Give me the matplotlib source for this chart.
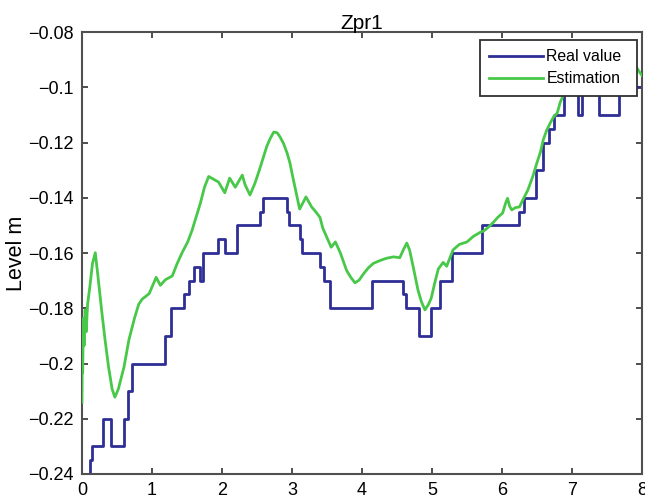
import matplotlib
matplotlib.use("Agg")
import matplotlib.pyplot as plt
import numpy as np
from matplotlib.ticker import FuncFormatter

plt.rcParams['font.family'] = ['Liberation Sans', 'DejaVu Sans']

# real value: staircase, level holds from each x until the next one
real_x = [0.00, 0.12, 0.15, 0.30, 0.42, 0.60, 0.66, 0.72, 1.18, 1.27, 1.46, 1.53,
          1.60, 1.68, 1.73, 1.95, 2.04, 2.21, 2.54, 2.59, 2.93, 2.96, 3.12, 3.15,
          3.40, 3.46, 3.55, 4.14, 4.59, 4.63, 4.82, 4.99, 5.12, 5.28, 5.72, 6.24,
          6.31, 6.48, 6.59, 6.67, 6.75, 6.89, 7.08, 7.14, 7.38, 7.67, 8.00]
real_y = [-0.240, -0.235, -0.230, -0.220, -0.230, -0.220, -0.210, -0.200, -0.190, -0.180, -0.175, -0.170,
          -0.165, -0.170, -0.160, -0.155, -0.160, -0.150, -0.145, -0.140, -0.145, -0.150, -0.155, -0.160,
          -0.165, -0.170, -0.180, -0.170, -0.175, -0.180, -0.190, -0.180, -0.170, -0.160, -0.150, -0.145,
          -0.140, -0.130, -0.120, -0.115, -0.110, -0.100, -0.110, -0.100, -0.110, -0.100, -0.100]

# estimation
est_x = [0.00, 0.005, 0.01, 0.02, 0.03, 0.045, 0.06, 0.08, 0.11, 0.15, 0.19, 0.23,
         0.28, 0.33, 0.38, 0.43, 0.47, 0.52, 0.60, 0.67, 0.75, 0.81, 0.86, 0.91,
         0.96, 1.01, 1.06, 1.12, 1.19, 1.29, 1.36, 1.43, 1.51, 1.57, 1.63, 1.69,
         1.75, 1.81, 1.88, 1.95, 2.04, 2.11, 2.19, 2.29, 2.33, 2.40, 2.47, 2.53,
         2.59, 2.64, 2.69, 2.74, 2.79, 2.83, 2.88, 2.93, 2.97, 3.01, 3.06, 3.11,
         3.20, 3.28, 3.34, 3.40, 3.44, 3.51, 3.56, 3.62, 3.69, 3.78, 3.84, 3.90,
         3.96, 4.02, 4.09, 4.16, 4.25, 4.35, 4.45, 4.54, 4.59, 4.64, 4.68, 4.73,
         4.80, 4.85, 4.90, 4.95, 4.99, 5.04, 5.09, 5.16, 5.21, 5.30, 5.39, 5.50,
         5.59, 5.69, 5.74, 5.79, 5.87, 5.94, 6.01, 6.05, 6.08, 6.11, 6.14, 6.19,
         6.25, 6.31, 6.37, 6.44, 6.50, 6.55, 6.59, 6.64, 6.69, 6.74, 6.79, 6.83,
         6.87, 6.92, 7.00, 7.10, 7.20, 7.35, 7.50, 7.65, 7.80, 7.92, 7.97, 8.00]
est_y = [-0.2140, -0.1935, -0.2033, -0.1836, -0.1935, -0.1806, -0.1885, -0.1786, -0.1727, -0.1638, -0.1599, -0.1688,
         -0.1806, -0.1915, -0.2013, -0.2092, -0.2122, -0.2092, -0.2013, -0.1915, -0.1836, -0.1786, -0.1767, -0.1757,
         -0.1747, -0.1717, -0.1688, -0.1717, -0.1697, -0.1683, -0.1638, -0.1599, -0.1560, -0.1520, -0.1471, -0.1421,
         -0.1362, -0.1323, -0.1333, -0.1343, -0.1382, -0.1329, -0.1362, -0.1318, -0.1353, -0.1390, -0.1348, -0.1303,
         -0.1254, -0.1214, -0.1185, -0.1162, -0.1165, -0.1180, -0.1204, -0.1238, -0.1273, -0.1323, -0.1382, -0.1441,
         -0.1397, -0.1433, -0.1451, -0.1471, -0.1510, -0.1550, -0.1579, -0.1560, -0.1599, -0.1663, -0.1688, -0.1708,
         -0.1698, -0.1676, -0.1654, -0.1638, -0.1628, -0.1619, -0.1614, -0.1617, -0.1589, -0.1564, -0.1589, -0.1648,
         -0.1734, -0.1777, -0.1806, -0.1786, -0.1763, -0.1708, -0.1658, -0.1634, -0.1648, -0.1589, -0.1569, -0.1560,
         -0.1540, -0.1525, -0.1520, -0.1510, -0.1491, -0.1471, -0.1455, -0.1421, -0.1402, -0.1431, -0.1444, -0.1436,
         -0.1433, -0.1402, -0.1372, -0.1323, -0.1273, -0.1234, -0.1190, -0.1155, -0.1129, -0.1106, -0.1093, -0.1056,
         -0.1032, -0.1007, -0.0987, -0.0977, -0.0973, -0.0977, -0.0967, -0.0957, -0.0937, -0.0927, -0.0947, -0.0957]

x_ticks = [0, 1, 2, 3, 4, 5, 6, 7, 8]
y_ticks = [-0.24, -0.22, -0.2, -0.18, -0.16, -0.14, -0.12, -0.1, -0.08]


def fmt(v, pos):
    return ('%g' % round(v, 4)).replace('-', '\u2212')


fig = plt.figure(figsize=(6.45, 5.01), dpi=100)
ax = fig.add_axes([0.1271, 0.0539, 0.8682, 0.8822])

ax.step(real_x, real_y, where='post', color='#2e2e96', lw=2.0, label='Real value', zorder=2)
ax.plot(est_x, est_y, color='#48c848', lw=2.0, label='Estimation', zorder=3)

ax.set_xlim(0, 8)
ax.set_ylim(-0.24, -0.08)
ax.set_xticks(x_ticks)
ax.set_yticks(y_ticks)
ax.yaxis.set_major_formatter(FuncFormatter(fmt))
ax.tick_params(direction='in', top=True, right=True, length=4, width=1.3,
               color='#404040', labelsize=13)
ax.tick_params(axis='x', pad=6)
ax.tick_params(axis='y', pad=6)
for s in ax.spines.values():
    s.set_color('#505050')
    s.set_linewidth(1.5)

ax.set_title('Zpr1', fontsize=15, pad=2)
ax.set_ylabel('Level m', fontsize=15.5)
ax.yaxis.set_label_coords(-0.098, 0.5)

# box stretched to the width it has in the original
leg = ax.legend(loc='upper right', bbox_to_anchor=(0.7107, 0.70, 0.2804, 0.282), mode='expand',
                borderaxespad=0, fontsize=11.4, handlelength=3.35, handletextpad=0.25,
                fancybox=False, framealpha=1, edgecolor='#303030', labelspacing=0.42,
                borderpad=0.6)
leg.get_frame().set_linewidth(1.3)

fig.savefig('out.png', dpi=100)
